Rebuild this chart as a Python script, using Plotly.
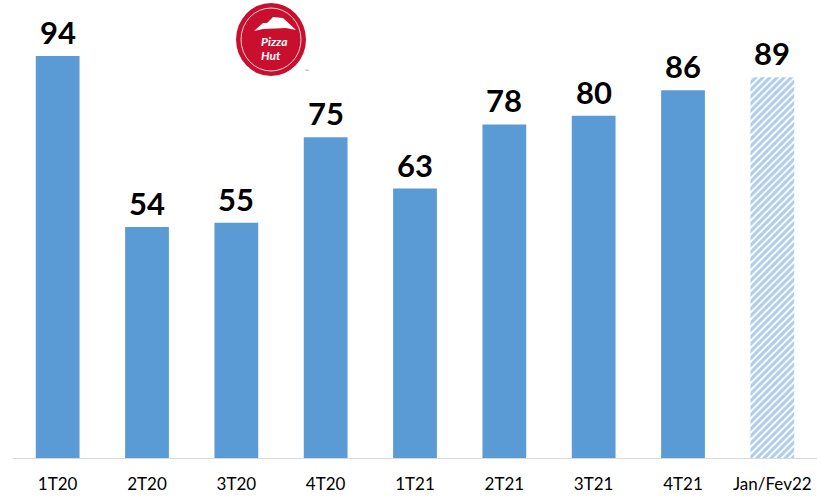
import plotly.graph_objects as go

categories = ["1T20", "2T20", "3T20", "4T20", "1T21", "2T21", "3T21", "4T21", "Jan/Fev22"]
values = [94, 54, 55, 75, 63, 78, 80, 86, 89]
hatched = [False, False, False, False, False, False, False, False, True]

BLUE = "#5B9BD5"
W, H = 817, 499
ML, MR, MT, MB = 13, 0, 0, 41
PW, PH = W - ML - MR, H - MT - MB

def px(x):
    return (x - ML) / PW

def py(y):
    return 1 - (y - MT) / PH

solid_x = [c for c, h in zip(categories, hatched) if not h]
solid_y = [v for v, h in zip(values, hatched) if not h]
hatch_x = [c for c, h in zip(categories, hatched) if h]
hatch_y = [v for v, h in zip(values, hatched) if h]

label_font = dict(family="Lato, 'Open Sans', sans-serif", size=31, color="black", weight="bold")

fig = go.Figure()
fig.add_trace(go.Bar(
    x=solid_x, y=solid_y, width=0.49,
    marker=dict(color=BLUE, line=dict(width=0)),
    hoverinfo="skip",
))
fig.add_trace(go.Bar(
    x=hatch_x, y=hatch_y, width=0.49,
    marker=dict(
        color="white", line=dict(width=0),
        pattern=dict(shape="/", fgcolor=BLUE, bgcolor="white", size=5,
                     solidity=0.6, fillmode="overlay"),
    ),
    hoverinfo="skip",
))

annotations = []
for c, v in zip(categories, values):
    annotations.append(dict(
        x=c, y=v, xref="x", yref="y", text=f"<b>{v}</b>", showarrow=False,
        xanchor="center", yanchor="bottom", yshift=3, font=label_font,
    ))

# Pizza Hut logo (approximate)
shapes = [
    dict(type="circle", xref="paper", yref="paper",
         x0=px(236), x1=px(306), y0=py(76), y1=py(3),
         fillcolor="#C8102E", line=dict(width=0)),
    dict(type="circle", xref="paper", yref="paper",
         x0=px(241), x1=px(301), y0=py(71), y1=py(8),
         fillcolor="rgba(0,0,0,0)", line=dict(width=1, color="rgba(255,255,255,0.8)")),
    dict(type="path", xref="paper", yref="paper",
         path=(f"M {px(254)},{py(31)} L {px(263)},{py(23)} L {px(267)},{py(23)} "
               f"L {px(273)},{py(17)} L {px(283)},{py(18)} L {px(296)},{py(30)} "
               f"L {px(286)},{py(28)} L {px(263)},{py(29)} Z"),
         fillcolor="white", line=dict(width=0)),
]

annotations += [
    dict(text="<b><i>Pizza</i></b>", xref="paper", yref="paper",
         x=px(274), y=py(41), xanchor="center", yanchor="middle", showarrow=False,
         font=dict(family="Lato, sans-serif", size=12, color="white")),
    dict(text="<b><i>Hut</i></b>", xref="paper", yref="paper",
         x=px(271), y=py(56), xanchor="center", yanchor="middle", showarrow=False,
         font=dict(family="Lato, sans-serif", size=12, color="white")),
    dict(text="™", xref="paper", yref="paper", x=px(307), y=py(71),
         xanchor="center", yanchor="middle",
         showarrow=False, font=dict(family="Lato, sans-serif", size=5, color="#888")),
]

fig.update_layout(
    width=W, height=H,
    margin=dict(l=ML, r=MR, t=MT, b=MB, autoexpand=False),
    paper_bgcolor="white", plot_bgcolor="white",
    showlegend=False,
    barmode="overlay",
    shapes=shapes,
    annotations=annotations,
    xaxis=dict(
        automargin=False,
        showline=True, linecolor="#D9D9D9", linewidth=1,
        showgrid=False, ticks="", ticklabelstandoff=11,
        tickfont=dict(family="Lato, 'Open Sans', sans-serif", size=17, color="black"),
    ),
    yaxis=dict(range=[0, PH / 4.277], visible=False, showgrid=False,
               zeroline=False, automargin=False),
)

fig.write_html(
    "out.html",
    config={"displayModeBar": False},
    post_script="document.body.style.margin='0';document.body.style.overflow='hidden';",
)
